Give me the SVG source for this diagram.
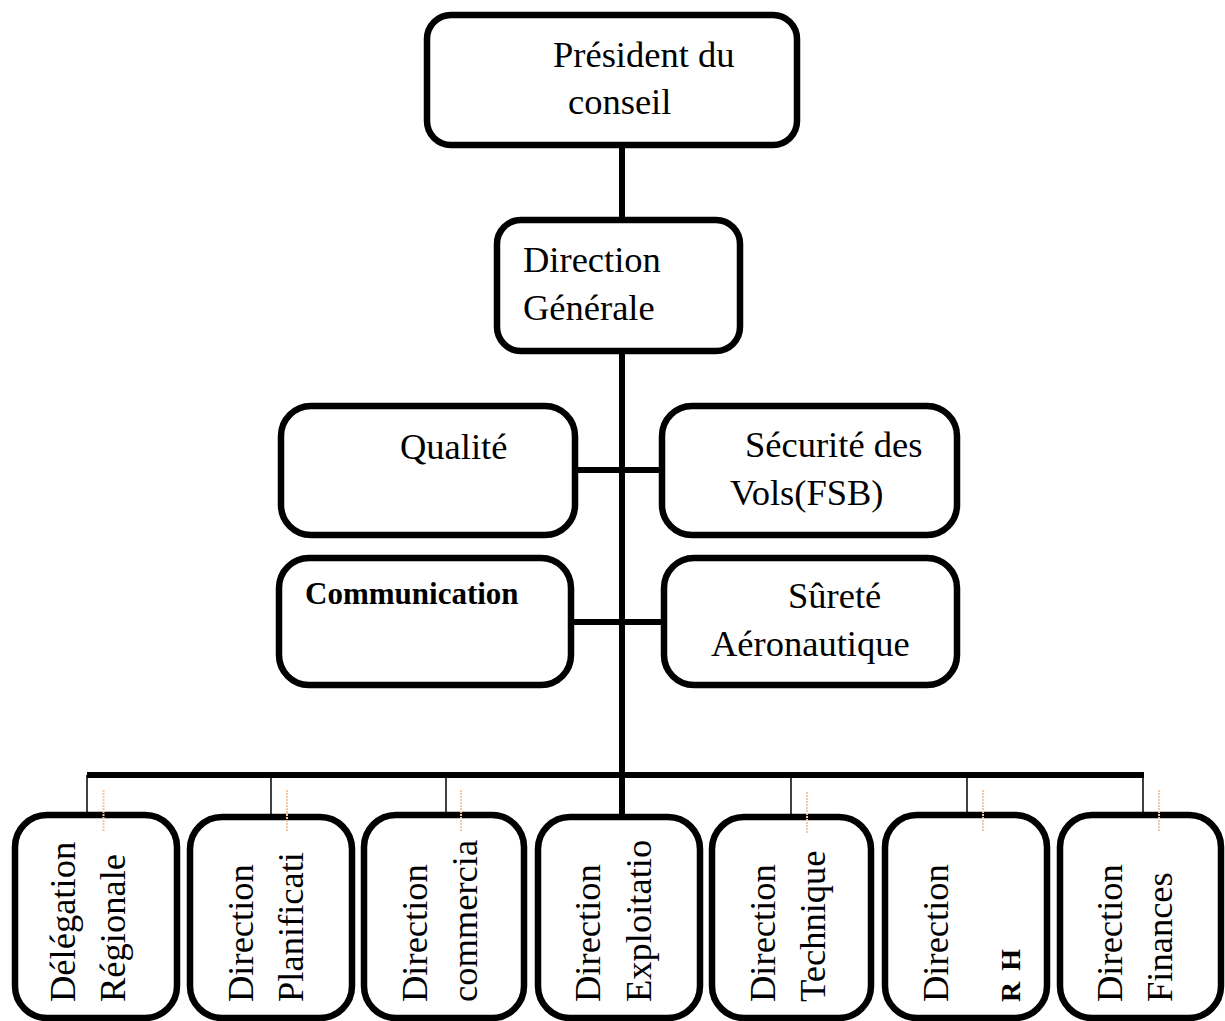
<svg xmlns="http://www.w3.org/2000/svg" width="1225" height="1021" viewBox="0 0 1225 1021">
<style>
.box{fill:#fff;stroke:#000;stroke-width:6.5}
.t{font-family:"Liberation Serif","Times New Roman",serif;font-size:36.5px;fill:#000}
.b{font-weight:bold}
.thick{stroke:#000;stroke-width:6;fill:none}
.thin{stroke:#000;stroke-width:1.5;fill:none}
.dash{stroke:#f6c7a3;stroke-width:2;stroke-dasharray:2 1;fill:none}
</style>
<rect width="1225" height="1021" fill="#fff"/>
<g id="connectors">
<line class="thick" x1="622" y1="146" x2="622" y2="816"/>
<line class="thick" x1="578" y1="470" x2="662" y2="470"/>
<line class="thick" x1="571" y1="622" x2="664" y2="622"/>
<line class="thick" x1="87" y1="775" x2="1144" y2="775"/>
<line class="thin" x1="87" y1="775" x2="87" y2="815"/>
<line class="thin" x1="271" y1="775" x2="271" y2="815"/>
<line class="thin" x1="446" y1="775" x2="446" y2="815"/>
<line class="thin" x1="791" y1="775" x2="791" y2="815"/>
<line class="thin" x1="967" y1="775" x2="967" y2="815"/>
<line class="thin" x1="1143" y1="775" x2="1143" y2="815"/>
</g>
<g id="president">
<rect class="box" x="427" y="15" width="370" height="130" rx="24"/>
<text class="t" x="553" y="67">Président du</text>
<text class="t" x="568" y="114">conseil</text>
</g>
<g id="direction-generale">
<rect class="box" x="497" y="220" width="243" height="131" rx="24"/>
<text class="t" x="523" y="272">Direction</text>
<text class="t" x="523" y="320">Générale</text>
</g>
<g id="qualite">
<rect class="box" x="281" y="406" width="294" height="129" rx="30"/>
<text class="t" x="400" y="459">Qualité</text>
</g>
<g id="securite-vols">
<rect class="box" x="662" y="406" width="295" height="129" rx="30"/>
<text class="t" x="745" y="457">Sécurité des</text>
<text class="t" x="730" y="505">Vols(FSB)</text>
</g>
<g id="communication">
<rect class="box" x="279" y="558" width="292" height="127" rx="30"/>
<text class="t b" x="305" y="604" style="font-size:31px">Communication</text>
</g>
<g id="surete">
<rect class="box" x="664" y="558" width="293" height="127" rx="30"/>
<text class="t" x="788" y="608">Sûreté</text>
<text class="t" x="711" y="656">Aéronautique</text>
</g>
<g id="delegation-regionale">
<rect class="box" x="15" y="815" width="162" height="203" rx="32"/>
<text class="t" transform="translate(75,1002) rotate(-90)">Délégation</text>
<text class="t" transform="translate(125,1002) rotate(-90)">Régionale</text>
</g>
<g id="direction-planification">
<rect class="box" x="190" y="817" width="162" height="201" rx="32"/>
<text class="t" transform="translate(253,1002) rotate(-90)">Direction</text>
<text class="t" transform="translate(303,1002) rotate(-90)">Planificati</text>
</g>
<g id="direction-commerciale">
<rect class="box" x="364" y="815" width="160" height="203" rx="32"/>
<text class="t" transform="translate(427,1002) rotate(-90)">Direction</text>
<text class="t" transform="translate(477,1002) rotate(-90)">commercia</text>
</g>
<g id="direction-exploitation">
<rect class="box" x="538" y="817" width="162" height="201" rx="32"/>
<text class="t" transform="translate(600,1002) rotate(-90)">Direction</text>
<text class="t" transform="translate(651,1002) rotate(-90)">Exploitatio</text>
</g>
<g id="direction-technique">
<rect class="box" x="712" y="817" width="159" height="201" rx="32"/>
<text class="t" transform="translate(775,1002) rotate(-90)">Direction</text>
<text class="t" transform="translate(825,1002) rotate(-90)">Technique</text>
</g>
<g id="direction-rh">
<rect class="box" x="885" y="815" width="162" height="203" rx="32"/>
<text class="t" transform="translate(948,1002) rotate(-90)">Direction</text>
<text class="t b" transform="translate(1020,1002) rotate(-90)" style="font-size:28px;letter-spacing:2px">R H</text>
</g>
<g id="direction-finances">
<rect class="box" x="1060" y="815" width="161" height="203" rx="32"/>
<text class="t" transform="translate(1122,1002) rotate(-90)">Direction</text>
<text class="t" transform="translate(1172,1002) rotate(-90)">Finances</text>
</g>
<g id="marks">
<line class="dash" x1="103.5" y1="790" x2="103.5" y2="832"/>
<line class="dash" x1="287" y1="790" x2="287" y2="832"/>
<line class="dash" x1="461" y1="790" x2="461" y2="832"/>
<line class="dash" x1="807" y1="792" x2="807" y2="833"/>
<line class="dash" x1="983" y1="790" x2="983" y2="832"/>
<line class="dash" x1="1159" y1="790" x2="1159" y2="832"/>
</g>
</svg>
